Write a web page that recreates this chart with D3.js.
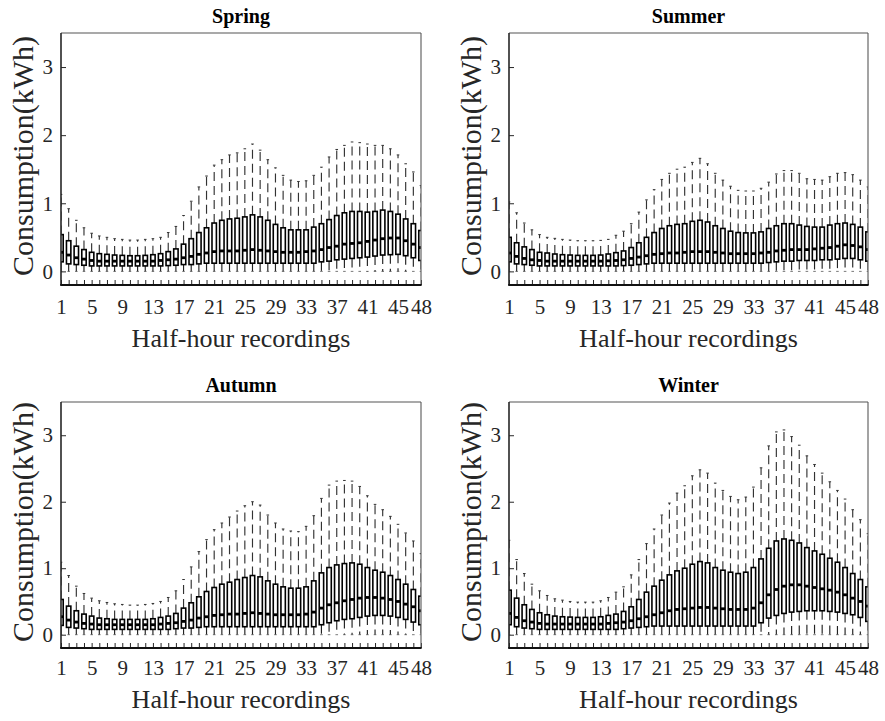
<!DOCTYPE html>
<html>
<head>
<meta charset="utf-8">
<script src="https://cdn.jsdelivr.net/npm/d3@7"></script>
<style>
  body { margin: 0; background: #fff; }
  svg { display: block; }
  text { font-family: "Liberation Serif", "Times New Roman", serif; }
</style>
</head>
<body>
<svg id="chart" width="885" height="721"></svg>
<script>
// Half-hour slots of the day
const slots = [1,2,3,4,5,6,7,8,9,10,11,12,13,14,15,16,17,18,19,20,21,22,23,24,
               25,26,27,28,29,30,31,32,33,34,35,36,37,38,39,40,41,42,43,44,45,46,47,48];
const xTickLabels = [1,5,9,13,17,21,25,29,33,37,41,45,48];
const yTickLabels = [0,1,2,3];
const seasons = ["Spring", "Summer", "Autumn", "Winter"];

// Spring (kWh)
const springLower = [0,0,0,0,0,0,0,0,0,0,0,0,0,0,0,0,0,0,0,0,0,0,0,0,0,0,0,0,0,0,0,0,0,0,0,0,0,0,0,0,0,0,0,0,0,0,0,0];
const springQ1 = [0.14,0.11,0.10,0.09,0.08,0.08,0.08,0.08,0.08,0.08,
                  0.08,0.08,0.08,0.08,0.085,0.09,0.10,0.10,0.11,0.12,
                  0.12,0.12,0.12,0.12,0.12,0.12,0.12,0.12,0.12,0.12,
                  0.12,0.12,0.12,0.12,0.14,0.15,0.17,0.18,0.19,0.20,
                  0.21,0.225,0.24,0.245,0.25,0.23,0.20,0.16];
const springMedian = [0.28,0.24,0.20,0.18,0.16,0.15,0.15,0.15,0.15,0.15,
                      0.15,0.15,0.15,0.16,0.17,0.18,0.20,0.22,0.25,0.27,
                      0.29,0.30,0.30,0.30,0.31,0.32,0.31,0.30,0.29,0.28,
                      0.28,0.28,0.29,0.30,0.32,0.35,0.37,0.40,0.41,0.42,
                      0.44,0.46,0.48,0.49,0.49,0.45,0.40,0.35];
const springQ3 = [0.54,0.45,0.37,0.32,0.28,0.26,0.25,0.24,0.235,0.23,
                  0.23,0.235,0.245,0.26,0.29,0.33,0.40,0.48,0.57,0.64,
                  0.71,0.75,0.77,0.78,0.80,0.83,0.80,0.75,0.69,0.64,
                  0.61,0.61,0.61,0.65,0.70,0.76,0.82,0.86,0.88,0.88,
                  0.87,0.88,0.90,0.88,0.84,0.77,0.70,0.60];
const springUpper = [1.13,0.92,0.75,0.64,0.56,0.52,0.50,0.48,0.47,0.46,
                     0.46,0.47,0.48,0.50,0.57,0.66,0.82,1.03,1.24,1.40,
                     1.56,1.64,1.71,1.74,1.80,1.87,1.78,1.64,1.52,1.41,
                     1.34,1.32,1.33,1.41,1.53,1.68,1.79,1.85,1.90,1.89,
                     1.87,1.85,1.85,1.80,1.71,1.58,1.46,1.26];

// Summer (kWh)
const summerLower = [0,0,0,0,0,0,0,0,0,0,0,0,0,0,0,0,0,0,0,0,0,0,0,0,0,0,0,0,0,0,0,0,0,0,0,0,0,0,0,0,0,0,0,0,0,0,0,0];
const summerQ1 = [0.14,0.11,0.10,0.09,0.08,0.08,0.08,0.08,0.08,0.08,
                  0.08,0.08,0.08,0.08,0.08,0.085,0.09,0.10,0.11,0.12,
                  0.12,0.12,0.12,0.12,0.12,0.12,0.12,0.12,0.12,0.12,
                  0.12,0.12,0.12,0.12,0.13,0.14,0.15,0.15,0.16,0.16,
                  0.16,0.17,0.17,0.18,0.19,0.19,0.17,0.15];
const summerMedian = [0.27,0.22,0.19,0.17,0.16,0.15,0.15,0.15,0.15,0.15,
                      0.15,0.15,0.15,0.155,0.16,0.17,0.19,0.21,0.23,0.25,
                      0.26,0.27,0.27,0.28,0.29,0.29,0.29,0.28,0.27,0.26,
                      0.26,0.26,0.26,0.27,0.28,0.30,0.31,0.32,0.32,0.32,
                      0.33,0.34,0.35,0.37,0.39,0.38,0.36,0.32];
const summerQ3 = [0.50,0.42,0.36,0.32,0.28,0.27,0.255,0.245,0.24,0.235,
                  0.235,0.235,0.24,0.255,0.275,0.30,0.35,0.42,0.50,0.57,
                  0.63,0.67,0.69,0.70,0.735,0.75,0.725,0.67,0.63,0.59,
                  0.57,0.565,0.565,0.58,0.63,0.67,0.70,0.70,0.68,0.66,
                  0.65,0.65,0.68,0.70,0.71,0.69,0.65,0.58];
const summerUpper = [1.02,0.86,0.71,0.61,0.54,0.50,0.485,0.47,0.46,0.45,
                     0.45,0.45,0.455,0.47,0.53,0.59,0.70,0.87,1.05,1.20,
                     1.35,1.44,1.50,1.53,1.60,1.66,1.58,1.44,1.34,1.25,
                     1.19,1.18,1.18,1.22,1.31,1.43,1.48,1.48,1.44,1.36,
                     1.35,1.34,1.39,1.44,1.45,1.42,1.34,1.24];

// Autumn (kWh)
const autumnLower = [0,0,0,0,0,0,0,0,0,0,0,0,0,0,0,0,0,0,0,0,0,0,0,0,0,0,0,0,0,0,0,0,0,0,0,0,0,0,0,0,0,0,0,0,0,0,0,0];
const autumnQ1 = [0.14,0.11,0.10,0.09,0.08,0.08,0.08,0.08,0.08,0.08,
                  0.08,0.08,0.08,0.08,0.08,0.09,0.10,0.10,0.11,0.12,
                  0.12,0.12,0.12,0.12,0.12,0.12,0.12,0.12,0.12,0.12,
                  0.12,0.12,0.12,0.12,0.15,0.18,0.21,0.23,0.24,0.26,
                  0.28,0.29,0.29,0.28,0.26,0.23,0.19,0.15];
const autumnMedian = [0.27,0.22,0.19,0.17,0.16,0.15,0.15,0.15,0.15,0.15,
                      0.15,0.15,0.15,0.16,0.17,0.18,0.20,0.22,0.25,0.27,
                      0.29,0.30,0.31,0.31,0.32,0.33,0.32,0.31,0.30,0.30,
                      0.30,0.30,0.31,0.34,0.40,0.45,0.48,0.51,0.53,0.55,
                      0.56,0.56,0.55,0.53,0.50,0.46,0.42,0.36];
const autumnQ3 = [0.53,0.43,0.36,0.31,0.28,0.25,0.24,0.23,0.23,0.23,
                  0.23,0.23,0.24,0.26,0.28,0.32,0.40,0.48,0.57,0.65,
                  0.71,0.76,0.79,0.83,0.86,0.89,0.87,0.81,0.76,0.72,
                  0.70,0.70,0.72,0.81,0.93,1.01,1.05,1.07,1.08,1.06,
                  1.01,0.97,0.94,0.89,0.83,0.76,0.68,0.58];
const autumnUpper = [1.09,0.89,0.73,0.62,0.55,0.51,0.485,0.465,0.455,0.445,
                     0.445,0.455,0.47,0.50,0.56,0.66,0.83,1.02,1.25,1.43,
                     1.58,1.68,1.77,1.86,1.94,2.00,1.95,1.80,1.68,1.59,
                     1.56,1.55,1.63,1.79,2.05,2.25,2.31,2.32,2.31,2.23,
                     2.09,1.96,1.88,1.78,1.66,1.53,1.41,1.22];

// Winter (kWh)
const winterLower = [0,0,0,0,0,0,0,0,0,0,0,0,0,0,0,0,0,0,0,0,0,0,0,0,0,0,0,0,0,0,0,0,0,0,0,0,0,0,0,0,0,0,0,0,0,0,0,0];
const winterQ1 = [0.15,0.12,0.10,0.09,0.08,0.08,0.08,0.08,0.08,0.08,
                  0.08,0.08,0.08,0.08,0.08,0.09,0.10,0.11,0.12,0.13,
                  0.13,0.13,0.13,0.13,0.13,0.13,0.13,0.13,0.13,0.13,
                  0.13,0.13,0.13,0.18,0.25,0.29,0.32,0.34,0.35,0.36,
                  0.36,0.36,0.35,0.34,0.32,0.30,0.26,0.20];
const winterMedian = [0.32,0.26,0.21,0.19,0.17,0.16,0.16,0.16,0.16,0.16,
                      0.16,0.16,0.16,0.17,0.18,0.19,0.21,0.24,0.27,0.30,
                      0.33,0.36,0.38,0.39,0.40,0.41,0.41,0.40,0.39,0.38,
                      0.38,0.38,0.40,0.48,0.60,0.68,0.73,0.75,0.75,0.73,
                      0.71,0.69,0.67,0.64,0.60,0.55,0.50,0.43];
const winterQ3 = [0.67,0.55,0.45,0.38,0.33,0.30,0.28,0.27,0.265,0.26,
                  0.26,0.26,0.27,0.29,0.31,0.35,0.42,0.53,0.64,0.73,
                  0.82,0.90,0.96,1.00,1.06,1.10,1.08,1.01,0.97,0.94,
                  0.92,0.94,1.01,1.14,1.30,1.41,1.44,1.42,1.38,1.31,
                  1.26,1.21,1.15,1.09,1.01,0.92,0.83,0.72];
const winterUpper = [1.42,1.13,0.92,0.76,0.66,0.59,0.54,0.52,0.50,0.49,
                     0.49,0.49,0.51,0.56,0.64,0.72,0.90,1.13,1.37,1.59,
                     1.80,1.98,2.13,2.24,2.39,2.48,2.43,2.28,2.17,2.08,
                     2.03,2.07,2.22,2.51,2.84,3.05,3.08,2.98,2.85,2.69,
                     2.56,2.43,2.30,2.17,2.04,1.88,1.73,1.52];

const seasonStats = {
  Spring: { lower: springLower, q1: springQ1, median: springMedian, q3: springQ3, upper: springUpper },
  Summer: { lower: summerLower, q1: summerQ1, median: summerMedian, q3: summerQ3, upper: summerUpper },
  Autumn: { lower: autumnLower, q1: autumnQ1, median: autumnMedian, q3: autumnQ3, upper: autumnUpper },
  Winter: { lower: winterLower, q1: winterQ1, median: winterMedian, q3: winterQ3, upper: winterUpper }
};

// Panel geometry (2 x 2 grid)
const panels = [
  { x: 61,  y: 33,  w: 360, h: 252, xlabelDy: 62, tickPad: 14 },
  { x: 509, y: 33,  w: 359, h: 252, xlabelDy: 62, tickPad: 14 },
  { x: 61,  y: 402, w: 360, h: 246, xlabelDy: 60, tickPad: 12 },
  { x: 509, y: 402, w: 359, h: 246, xlabelDy: 60, tickPad: 12 }
];

const ink = "#262626";
const svg = d3.select("#chart");
const defs = svg.append("defs");

seasons.forEach((season, i) => {
  const p = panels[i];
  const s = seasonStats[season];
  const rows = slots.map((slot, k) => ({
    slot, lower: s.lower[k], q1: s.q1[k], median: s.median[k], q3: s.q3[k], upper: s.upper[k]
  }));

  const x = d3.scaleLinear().domain([1, 48]).range([p.x, p.x + p.w]);
  const y = d3.scaleLinear().domain([-0.2, 3.5]).range([p.y + p.h, p.y]);
  const boxW = 4.4, capW = 2.6;

  const clipId = "clip-" + season;
  defs.append("clipPath").attr("id", clipId)
    .append("rect").attr("x", p.x).attr("y", p.y).attr("width", p.w).attr("height", p.h);

  const g = svg.append("g").attr("clip-path", `url(#${clipId})`);

  // whiskers (dashed), drawn outward from the box edges
  g.selectAll(".wu").data(rows).join("line")
    .attr("x1", d => x(d.slot)).attr("x2", d => x(d.slot))
    .attr("y1", d => y(d.q3)).attr("y2", d => y(d.upper))
    .attr("stroke", "#333").attr("stroke-width", 1.15).attr("stroke-dasharray", "9,5");
  g.selectAll(".wl").data(rows).join("line")
    .attr("x1", d => x(d.slot)).attr("x2", d => x(d.slot))
    .attr("y1", d => y(d.q1)).attr("y2", d => y(d.lower))
    .attr("stroke", "#222").attr("stroke-width", 1.15).attr("stroke-dasharray", "9,5");

  // whisker caps
  g.selectAll(".cu").data(rows).join("line")
    .attr("x1", d => x(d.slot) - capW / 2).attr("x2", d => x(d.slot) + capW / 2)
    .attr("y1", d => y(d.upper)).attr("y2", d => y(d.upper))
    .attr("stroke", "#333").attr("stroke-width", 1);
  g.selectAll(".cl").data(rows).join("line")
    .attr("x1", d => x(d.slot) - capW / 2).attr("x2", d => x(d.slot) + capW / 2)
    .attr("y1", d => y(d.lower)).attr("y2", d => y(d.lower))
    .attr("stroke", "#555").attr("stroke-width", 0.8);

  // boxes
  g.selectAll(".box").data(rows).join("rect")
    .attr("x", d => x(d.slot) - boxW / 2).attr("width", boxW)
    .attr("y", d => y(d.q3)).attr("height", d => y(d.q1) - y(d.q3))
    .attr("fill", "none").attr("stroke", "#000").attr("stroke-width", 1.6);

  // medians
  g.selectAll(".med").data(rows).join("line")
    .attr("x1", d => x(d.slot) - boxW / 2).attr("x2", d => x(d.slot) + boxW / 2)
    .attr("y1", d => y(d.median)).attr("y2", d => y(d.median))
    .attr("stroke", "#000").attr("stroke-width", 2.8);

  // axes with inward ticks
  const yAxis = d3.axisLeft(y).tickValues(yTickLabels).tickSize(-5).tickPadding(8).tickFormat(d3.format("d"));
  const ya = svg.append("g").attr("transform", `translate(${p.x},0)`).call(yAxis);
  const xAxis = d3.axisBottom(x).tickValues(slots).tickSize(-5).tickPadding(p.tickPad)
    .tickFormat(d => xTickLabels.includes(d) ? String(d) : "");
  const xa = svg.append("g").attr("transform", `translate(0,${p.y + p.h})`).call(xAxis);
  [ya, xa].forEach(a => {
    a.select(".domain").remove();
    a.selectAll(".tick line").attr("stroke", ink).attr("stroke-width", 1);
    a.selectAll(".tick text").attr("fill", ink)
      .style("font-family", '"Liberation Serif", "Times New Roman", serif')
      .style("font-size", "21px");
  });

  // frame: heavier left/bottom, lighter top/right
  svg.append("line").attr("x1", p.x + p.w).attr("x2", p.x + p.w).attr("y1", p.y).attr("y2", p.y + p.h)
    .attr("stroke", "#666").attr("stroke-width", 1.2);
  svg.append("line").attr("x1", p.x).attr("x2", p.x + p.w).attr("y1", p.y).attr("y2", p.y)
    .attr("stroke", "#555").attr("stroke-width", 1.2);
  svg.append("line").attr("x1", p.x).attr("x2", p.x).attr("y1", p.y).attr("y2", p.y + p.h)
    .attr("stroke", ink).attr("stroke-width", 1.6);
  svg.append("line").attr("x1", p.x - 0.8).attr("x2", p.x + p.w + 0.6).attr("y1", p.y + p.h).attr("y2", p.y + p.h)
    .attr("stroke", "#111").attr("stroke-width", 2);

  // title
  svg.append("text").attr("x", p.x + p.w / 2).attr("y", p.y - 10)
    .attr("text-anchor", "middle").attr("font-size", 20).attr("font-weight", "bold").attr("fill", "#000")
    .text(season);

  // axis labels
  svg.append("text").attr("x", p.x + p.w / 2).attr("y", p.y + p.h + p.xlabelDy)
    .attr("text-anchor", "middle").attr("font-size", 26).attr("fill", ink)
    .text("Half-hour recordings");
  svg.append("text")
    .attr("transform", `translate(${p.x - 28},${p.y + p.h / 2 - 3}) rotate(-90)`)
    .attr("text-anchor", "middle").attr("font-size", 30).attr("fill", ink)
    .text("Consumption(kWh)");
});
</script>
</body>
</html>
